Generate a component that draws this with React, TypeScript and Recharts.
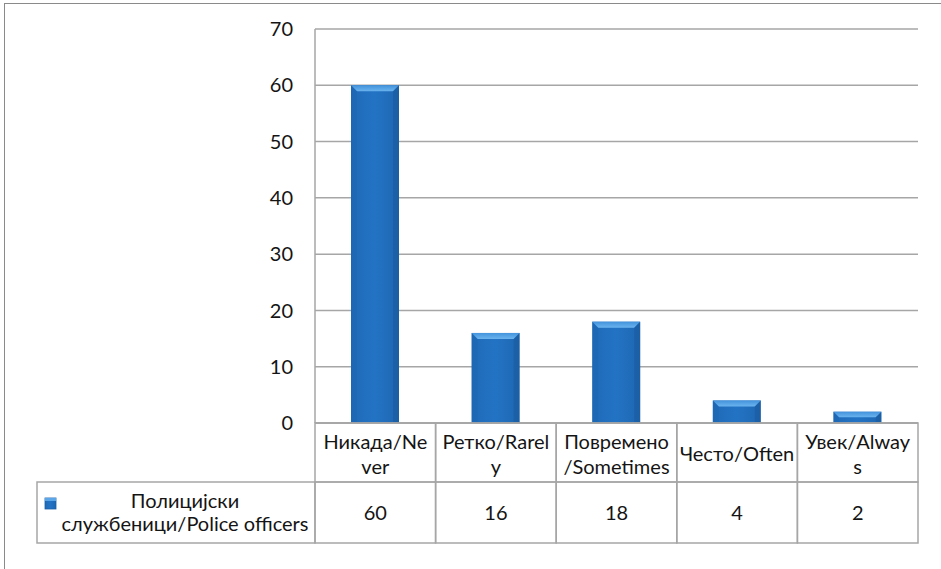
import React from "react";
import { BarChart, Bar, XAxis, YAxis, CartesianGrid } from "recharts";

const categories = ["Никада/Never", "Ретко/Rarely", "Повремено/Sometimes", "Често/Often", "Увек/Always"];
const categoryLines = [
  ["Никада/Ne", "ver"],
  ["Ретко/Rarel", "y"],
  ["Повремено", "/Sometimes"],
  ["Често/Often"],
  ["Увек/Alway", "s"],
];
const values = [60, 16, 18, 4, 2];
const seriesName = "Полицијски службеници/Police officers";
const seriesNameLines = ["Полицијски", "службеници/Police officers"];
const yTicks = [0, 10, 20, 30, 40, 50, 60, 70];

const data = categories.map((c, i) => ({ name: c, value: values[i], idx: i }));

const FONT = "Lato, 'Noto Sans', sans-serif";
const FS = 20;
const GRID = "#a6a6a6";
const TEXT = "#141414";

const BevelBar = (props: any) => {
  const { x, y, width, height } = props;
  if (!height || height <= 0) return null;
  const b = Math.min(6, height / 2);
  return (
    <g>
      <rect x={x} y={y} width={width} height={height} fill="url(#barGrad)" />
      <polygon
        points={`${x},${y} ${x + width},${y} ${x + width - b},${y + b} ${x + b},${y + b}`}
        fill="url(#topGrad)"
      />
      <polygon
        points={`${x},${y} ${x + b},${y + b} ${x + b},${y + height} ${x},${y + height}`}
        fill="#1b62ab"
        opacity={0.3}
      />
      <polygon
        points={`${x + width},${y} ${x + width - b},${y + b} ${x + width - b},${y + height} ${x + width},${y + height}`}
        fill="#174f8c"
        opacity={0.35}
      />
    </g>
  );
};

const TableTick = (props: any) => {
  const { x, y, payload } = props;
  const i = payload.index;
  const half = payload.offset && payload.offset > 0 ? payload.offset : 60.3;
  const left = x - half;
  const w = half * 2;
  const top = y;
  const row1 = 59;
  const row2 = 61;
  const lines = categoryLines[i] || [payload.value];
  return (
    <g>
      <rect x={left} y={top} width={w} height={row1} fill="none" stroke={GRID} strokeWidth={1.5} />
      <rect x={left} y={top + row1} width={w} height={row2} fill="none" stroke={GRID} strokeWidth={1.5} />
      {lines.length === 1 ? (
        <text x={x} y={top + 30} textAnchor="middle" dominantBaseline="central" fontSize={FS} fill={TEXT} fontFamily={FONT}>
          {lines[0]}
        </text>
      ) : (
        lines.map((l: string, k: number) => (
          <text key={k} x={x} y={top + 18 + k * 25} textAnchor="middle" dominantBaseline="central" fontSize={FS} fill={TEXT} fontFamily={FONT}>
            {l}
          </text>
        ))
      )}
      <text x={x} y={top + row1 + 30} textAnchor="middle" dominantBaseline="central" fontSize={FS} fill={TEXT} fontFamily={FONT}>
        {values[i]}
      </text>
      {i === 0 && (
        <g>
          <rect x={37} y={top + row1} width={left - 37} height={row2} fill="none" stroke={GRID} strokeWidth={1.5} />
          <rect x={45} y={top + row1 + 16} width={11} height={11} fill="url(#barGrad)" stroke="#1b5fa6" strokeWidth={0.8} />
          <rect x={45} y={top + row1 + 16} width={11} height={3} fill="#5ba6e8" />
          {seriesNameLines.map((l, k) => (
            <text key={k} x={185} y={top + row1 + 18 + k * 23} textAnchor="middle" dominantBaseline="central" fontSize={FS} fill={TEXT} fontFamily={FONT}>
              {l}
            </text>
          ))}
        </g>
      )}
    </g>
  );
};

export default function App() {
  return (
    <div style={{ position: "absolute", left: 0, top: 0, width: 941, height: 569, background: "#fff", overflow: "hidden" }}>
      <div
        style={{
          position: "absolute",
          left: 4,
          top: 3,
          width: 1000,
          height: 1000,
          borderLeft: "1.5px solid #8a8a8a",
          borderTop: "1.5px solid #8a8a8a",
        }}
      />
      <div style={{ position: "absolute", left: 0, top: 0 }}>
        <BarChart width={941} height={569} data={data} margin={{ top: 29, right: 23, bottom: 26, left: 0 }} barSize={48}>
          <defs>
            <linearGradient id="barGrad" x1="0" y1="0" x2="1" y2="0">
              <stop offset="0" stopColor="#1f6ab8" />
              <stop offset="0.5" stopColor="#2373c4" />
              <stop offset="1" stopColor="#1e67b2" />
            </linearGradient>
            <linearGradient id="topGrad" x1="0" y1="0" x2="0" y2="1">
              <stop offset="0" stopColor="#4393dc" />
              <stop offset="1" stopColor="#6ab3ee" />
            </linearGradient>
          </defs>
          <CartesianGrid vertical={false} stroke={GRID} strokeWidth={1.5} />
          <YAxis
            width={315}
            domain={[0, 70]}
            ticks={yTicks}
            interval={0}
            tickLine={false}
            axisLine={{ stroke: GRID, strokeWidth: 1.5 }}
            tickMargin={16}
            tick={{ fontSize: FS, fill: TEXT, fontFamily: FONT }}
          />
          <XAxis
            dataKey="name"
            height={120}
            interval={0}
            tickLine={false}
            tickSize={0}
            tickMargin={0}
            axisLine={{ stroke: GRID, strokeWidth: 1.5 }}
            tick={<TableTick />}
          />
          <Bar dataKey="value" name={seriesName} isAnimationActive={false} shape={<BevelBar />} />
        </BarChart>
      </div>
    </div>
  );
}
